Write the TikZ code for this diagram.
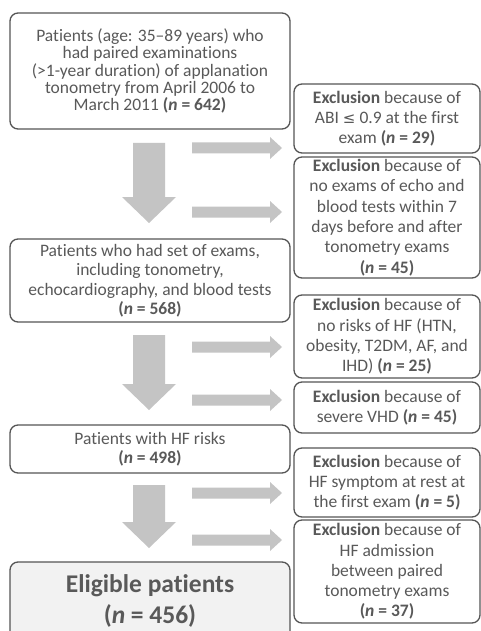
\documentclass[tikz,border=0pt]{standalone}
\usepackage{fontspec}
\setmainfont[Ligatures={NoCommon}]{Carlito}
\newfontfamily\symfont{DejaVu Sans}
\definecolor{txtgray}{RGB}{89,89,89}
\definecolor{linegray}{RGB}{85,85,85}
\definecolor{arrowgray}{RGB}{196,196,196}
\definecolor{eligfill}{RGB}{242,242,242}
\tikzset{
  mainbox/.style={draw=linegray, line width=1.3pt, rounded corners=8pt, text=txtgray,
    align=center, minimum width=280pt, inner sep=0pt, font=\fontsize{17.5}{19.5}\selectfont},
  exbox/.style={draw=linegray, line width=1.3pt, rounded corners=8pt, text=txtgray,
    align=center, minimum width=186pt, inner sep=0pt, font=\fontsize{17.5}{20.3}\selectfont},
  blockarrow/.style={fill=arrowgray, draw=none}
}
\newcommand\nn[1]{\textbf{(\textit{n} = #1)}}
\newcommand\downarr[2]{\fill[blockarrow] (133,#1) -- (165,#1) -- (165,#2-26) -- (176,#2-26) -- (149,#2) -- (122,#2-26) -- (133,#2-26) -- cycle;}
\newcommand\rightarr[1]{\fill[blockarrow] (192,#1-5.5) -- (270,#1-5.5) -- (270,#1-11) -- (282,#1) -- (270,#1+11) -- (270,#1+5.5) -- (192,#1+5.5) -- cycle;}
\begin{document}
\begin{tikzpicture}[x=1pt,y=-1pt]
\useasboundingbox (0,0) rectangle (481,631);
\clip (0,0) rectangle (481,631);
\fill[white] (0,0) rectangle (481,631);
% main boxes
\node[mainbox, minimum height=116pt, font=\fontsize{17.5}{17.3}\selectfont] (m1) at (150,71)
  {Patients (age: 35--89 years) who\\had paired examinations\\(>1-year duration) of applanation\\tonometry from April 2006 to\\March 2011 \nn{642}};
\node[mainbox, minimum height=83pt] (m2) at (150,280.5)
  {Patients who had set of exams,\\including tonometry,\\echocardiography, and blood tests\\\nn{568}};
\node[mainbox, minimum height=48pt] (m3) at (150,449)
  {Patients with HF risks\\\nn{498}};
\node[mainbox, fill=eligfill, minimum height=78pt, font=\fontsize{25.5}{31}\selectfont] (m4) at (150,601)
  {\textbf{Eligible patients}\\\nn{456}};
% exclusion boxes
\node[exbox, minimum height=69pt] (e1) at (387,118.5)
  {\textbf{Exclusion} because of\\ABI {\symfont\fontsize{15}{15}\selectfont ≤} 0.9 at the first\\exam \nn{29}};
\node[exbox, minimum height=121pt] (e2) at (387,217.5)
  {\textbf{Exclusion} because of\\no exams of echo and\\blood tests within 7\\days before and after\\tonometry exams\\\nn{45}};
\node[exbox, minimum height=83pt] (e3) at (387,336.5)
  {\textbf{Exclusion} because of\\no risks of HF (HTN,\\obesity, T2DM, AF, and\\IHD) \nn{25}};
\node[exbox, minimum height=51pt] (e4) at (387,407.5)
  {\textbf{Exclusion} because of\\severe VHD \nn{45}};
\node[exbox, minimum height=69pt] (e5) at (387,482.5)
  {\textbf{Exclusion} because of\\HF symptom at rest at\\the first exam \nn{5}};
\node[exbox, minimum height=103pt] (e6) at (387,571.5)
  {\textbf{Exclusion} because of\\HF admission\\between paired\\tonometry exams\\\nn{37}};
% block arrows
\downarr{143}{223}
\downarr{335}{410}
\downarr{485}{548}
\rightarr{148}
\rightarr{212}
\rightarr{347}
\rightarr{400}
\rightarr{493}
\rightarr{540}
\end{tikzpicture}
\end{document}
